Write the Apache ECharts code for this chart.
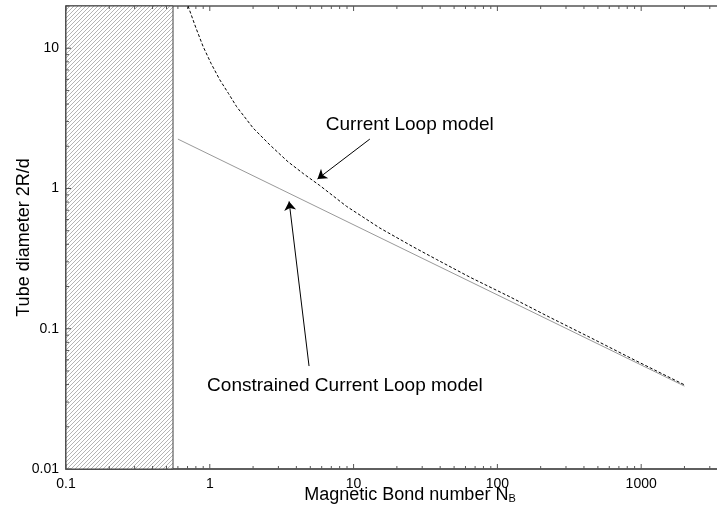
<!DOCTYPE html>
<html>
<head>
<meta charset="utf-8">
<script src="https://cdn.jsdelivr.net/npm/echarts@6/dist/echarts.min.js"></script>
<style>
html, body { margin: 0; padding: 0; background: #fff; }
#main { width: 717px; height: 516px; }
</style>
</head>
<body>
<div id="main"></div>
<script type="text/javascript">
// axis ranges and tick labels
var xMin = 0.1, xMax = 3648;
var yMin = 0.01, yMax = 20;
var xTickValues = [0.1, 1, 10, 100, 1000];
var xTickLabels = ['0.1', '1', '10', '100', '1000'];
var yTickValues = [0.01, 0.1, 1, 10];
var yTickLabels = ['0.01', '0.1', '1', '10'];

// Current Loop model (dashed)
var currentLoopX = [0.706, 0.80, 0.898, 1.02, 1.174, 1.35, 1.534, 2.0, 2.61, 3.5, 4.5, 5.82, 8.93, 15.2, 25.9, 37.7, 65, 122, 230, 439, 900, 2000];
var currentLoopY = [20, 14.0, 10.3, 7.8, 5.95, 4.75, 3.84, 2.70, 2.05, 1.55, 1.27, 1.05, 0.746, 0.523, 0.384, 0.312, 0.232, 0.169, 0.121, 0.0869, 0.0598, 0.0398];

// Constrained Current Loop model (solid grey)
var constrainedX = [0.6, 3.07, 30.4, 2000];
var constrainedY = [2.25, 0.995, 0.316, 0.039];

// forbidden region (hatched) ends here
var hatchEdge = 0.555;

// annotations: text anchor and arrow [tail, tip]
var loopLabel = 'Current Loop model';
var loopLabelAt = [6.41, 2.85];
var loopArrow = [[12.97, 2.25], [5.61, 1.169]];
var constrainedLabel = 'Constrained Current Loop model';
var constrainedLabelAt = [0.958, 0.0394];
var constrainedArrow = [[4.90, 0.0542], [3.56, 0.809]];

var FONT = 'Arial, "Liberation Sans", sans-serif';
var AXIS_COLOR = '#555';

function zip(xs, ys) {
    var out = [];
    for (var i = 0; i < xs.length; i++) out.push([xs[i], ys[i]]);
    return out;
}

function tickFormatter(values, labels) {
    return function (val) {
        for (var i = 0; i < values.length; i++) {
            if (Math.abs(val / values[i] - 1) < 1e-6) return labels[i];
        }
        return '';
    };
}

// hatch pattern for the left band
var hatch = document.createElement('canvas');
hatch.width = 4; hatch.height = 4;
var hctx = hatch.getContext('2d');
hctx.fillStyle = '#fff';
hctx.fillRect(0, 0, 4, 4);
hctx.fillStyle = '#b4b4b4';
for (var i = 0; i < 4; i++) hctx.fillRect(i, 3 - i, 1, 1);

// tick marks (major + minor, inside), [x, y, length, kind] kind 0 = x axis, 1 = y axis
var tickData = [];
for (var d = -1; d <= 3; d++) {
    for (var m = 1; m <= 9; m++) {
        var v = m * Math.pow(10, d);
        if (v > xMax) break;
        tickData.push([v, yMin, m === 1 ? 5 : 3, 0]);
    }
}
for (var d = -2; d <= 1; d++) {
    for (var m = 1; m <= 9; m++) {
        var v = m * Math.pow(10, d);
        if (v > yMax) break;
        tickData.push([xMin, v, m === 1 ? 5 : 3, 1]);
    }
}

var myChart = echarts.init(document.getElementById('main'));

var option = {
    animation: false,
    backgroundColor: '#fff',
    textStyle: { fontFamily: FONT },
    grid: {
        left: 66,
        top: 6,
        right: -5,
        bottom: 47,
        show: true,
        borderColor: AXIS_COLOR,
        borderWidth: 1.5,
        outerBoundsMode: 'none'
    },
    xAxis: {
        type: 'log',
        logBase: 10,
        min: xMin,
        max: xMax,
        name: 'Magnetic Bond number N{sub|B}',
        nameLocation: 'middle',
        nameGap: 17,
        nameMoveOverlap: false,
        nameTextStyle: {
            fontSize: 18,
            color: '#000',
            fontFamily: FONT,
            padding: [0, 0, 0, 32],
            rich: {
                sub: { fontSize: 11, lineHeight: 2, verticalAlign: 'bottom', color: '#000', fontFamily: FONT }
            }
        },
        axisLine: { show: true, onZero: false, lineStyle: { color: AXIS_COLOR, width: 1.5 } },
        axisTick: { show: false },
        splitLine: { show: false },
        axisLabel: {
            fontSize: 14,
            color: '#000',
            fontFamily: FONT,
            margin: 8,
            formatter: tickFormatter(xTickValues, xTickLabels)
        }
    },
    yAxis: {
        type: 'log',
        logBase: 10,
        min: yMin,
        max: yMax,
        name: 'Tube diameter 2R/d',
        nameLocation: 'middle',
        nameGap: 33,
        nameMoveOverlap: false,
        nameTextStyle: { fontSize: 18, color: '#000', fontFamily: FONT },
        axisLine: { show: true, onZero: false, lineStyle: { color: AXIS_COLOR, width: 1.5 } },
        axisTick: { show: false },
        splitLine: { show: false },
        axisLabel: {
            fontSize: 14,
            color: '#000',
            fontFamily: FONT,
            margin: 7,
            formatter: tickFormatter(yTickValues, yTickLabels)
        }
    },
    series: [
        {
            name: 'Constrained Current Loop model',
            type: 'line',
            data: zip(constrainedX, constrainedY),
            showSymbol: false,
            silent: true,
            lineStyle: { color: '#999', width: 1 },
            markArea: {
                silent: true,
                itemStyle: {
                    color: { image: hatch, repeat: 'repeat' },
                    opacity: 1,
                    borderColor: '#444',
                    borderWidth: 1
                },
                data: [[{ coord: [xMin, yMin] }, { coord: [hatchEdge, yMax] }]]
            },
            markLine: {
                silent: true,
                symbol: ['none', 'arrow'],
                symbolSize: 9,
                label: { show: false },
                lineStyle: { color: '#000', width: 1, type: 'solid' },
                data: [
                    [{ coord: loopArrow[0] }, { coord: loopArrow[1] }],
                    [{ coord: constrainedArrow[0] }, { coord: constrainedArrow[1] }]
                ]
            },
            markPoint: {
                silent: true,
                symbol: 'circle',
                symbolSize: 0,
                label: {
                    show: true,
                    position: 'right',
                    distance: 0,
                    color: '#000',
                    fontSize: 19,
                    fontFamily: FONT,
                    formatter: function (p) { return p.name; }
                },
                data: [
                    { name: loopLabel, coord: loopLabelAt },
                    { name: constrainedLabel, coord: constrainedLabelAt }
                ]
            }
        },
        {
            name: 'Current Loop model',
            type: 'line',
            data: zip(currentLoopX, currentLoopY),
            showSymbol: false,
            silent: true,
            lineStyle: { color: '#000', width: 1, type: [3, 2] }
        },
        {
            type: 'custom',
            silent: true,
            z: 10,
            clip: false,
            data: tickData,
            renderItem: function (params, api) {
                var len = api.value(2);
                var kind = api.value(3);
                var style = { stroke: AXIS_COLOR, lineWidth: 1 };
                if (kind === 0) {
                    var b = api.coord([api.value(0), yMin]);
                    var t = api.coord([api.value(0), yMax]);
                    return {
                        type: 'group',
                        children: [
                            { type: 'line', shape: { x1: b[0], y1: b[1], x2: b[0], y2: b[1] - len }, style: style },
                            { type: 'line', shape: { x1: t[0], y1: t[1], x2: t[0], y2: t[1] + len }, style: style }
                        ]
                    };
                }
                var l = api.coord([xMin, api.value(1)]);
                return { type: 'line', shape: { x1: l[0], y1: l[1], x2: l[0] + len, y2: l[1] }, style: style };
            }
        }
    ]
};

myChart.setOption(option);
</script>
</body>
</html>
